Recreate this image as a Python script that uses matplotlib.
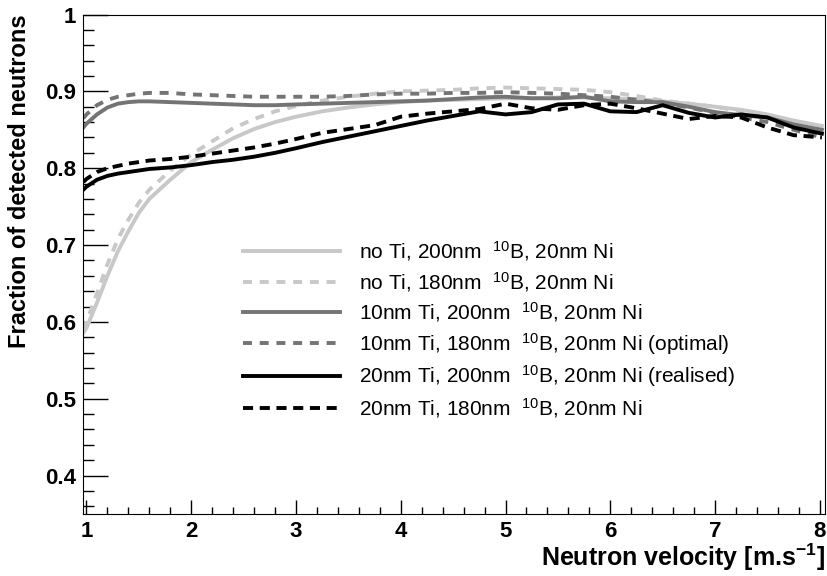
import matplotlib
matplotlib.use('Agg')
import matplotlib.pyplot as plt
from matplotlib.ticker import MultipleLocator

plt.rcParams['font.family'] = ['Liberation Sans', 'DejaVu Sans']
plt.rcParams['mathtext.default'] = 'regular'

# velocities (m/s)
velocity = [0.97, 1.0, 1.1, 1.2, 1.3, 1.4, 1.5, 1.6, 1.8, 2.0, 2.2, 2.4, 2.6, 2.8,
            3.0, 3.25, 3.5, 3.75, 4.0, 4.25, 4.5, 4.75, 5.0, 5.25, 5.5, 5.75,
            6.0, 6.25, 6.5, 6.75, 7.0, 7.25, 7.5, 7.75, 8.02]

# fraction of detected neutrons
noti_200 = [0.586, 0.592, 0.625, 0.660, 0.692, 0.718, 0.742, 0.760, 0.785, 0.808,
            0.824, 0.839, 0.851, 0.860, 0.867, 0.874, 0.879, 0.883, 0.886, 0.888,
            0.889, 0.890, 0.891, 0.891, 0.892, 0.892, 0.891, 0.890, 0.887, 0.884,
            0.880, 0.876, 0.870, 0.862, 0.855]
noti_180 = [0.590, 0.600, 0.637, 0.675, 0.708, 0.733, 0.755, 0.772, 0.797, 0.818,
            0.835, 0.852, 0.864, 0.874, 0.881, 0.888, 0.893, 0.897, 0.900, 0.901,
            0.902, 0.904, 0.905, 0.904, 0.903, 0.902, 0.899, 0.894, 0.888, 0.884,
            0.880, 0.874, 0.866, 0.857, 0.847]
ti10_200 = [0.853, 0.858, 0.870, 0.879, 0.884, 0.886, 0.887, 0.887, 0.886, 0.885,
            0.884, 0.883, 0.882, 0.882, 0.883, 0.884, 0.885, 0.886, 0.887, 0.888,
            0.890, 0.892, 0.893, 0.891, 0.891, 0.893, 0.887, 0.886, 0.886, 0.880,
            0.873, 0.869, 0.866, 0.857, 0.850]
ti10_180 = [0.865, 0.870, 0.882, 0.889, 0.893, 0.895, 0.897, 0.898, 0.898, 0.896,
            0.895, 0.894, 0.893, 0.893, 0.893, 0.893, 0.894, 0.896, 0.897, 0.897,
            0.898, 0.898, 0.899, 0.898, 0.897, 0.895, 0.893, 0.889, 0.885, 0.879,
            0.872, 0.866, 0.860, 0.850, 0.840]
ti20_200 = [0.772, 0.776, 0.785, 0.790, 0.793, 0.795, 0.797, 0.799, 0.801, 0.804,
            0.808, 0.811, 0.815, 0.820, 0.826, 0.834, 0.841, 0.848, 0.855, 0.862,
            0.868, 0.874, 0.870, 0.873, 0.883, 0.884, 0.874, 0.873, 0.882, 0.872,
            0.866, 0.870, 0.866, 0.853, 0.845]
ti20_180 = [0.782, 0.786, 0.795, 0.800, 0.803, 0.806, 0.808, 0.810, 0.812, 0.815,
            0.819, 0.823, 0.827, 0.832, 0.838, 0.846, 0.851, 0.856, 0.867, 0.871,
            0.874, 0.877, 0.884, 0.878, 0.876, 0.882, 0.884, 0.878, 0.871, 0.864,
            0.868, 0.866, 0.853, 0.843, 0.840]

labels = [r'no Ti, 200nm  $^{10}$B, 20nm Ni',
          r'no Ti, 180nm  $^{10}$B, 20nm Ni',
          r'10nm Ti, 200nm  $^{10}$B, 20nm Ni',
          r'10nm Ti, 180nm  $^{10}$B, 20nm Ni (optimal)',
          r'20nm Ti, 200nm  $^{10}$B, 20nm Ni (realised)',
          r'20nm Ti, 180nm  $^{10}$B, 20nm Ni']

fig = plt.figure(figsize=(8.27, 5.76), dpi=100)
ax = fig.add_axes([0.1004, 0.1076, 0.8972, 0.8672])

lw = 2.8
light, mid, dark = '#c8c8c8', '#747474', '#000000'
ax.plot(velocity, noti_200, color=light, lw=lw, label=labels[0])
ax.plot(velocity, noti_180, color=light, lw=lw, dashes=(2.3, 2.0), label=labels[1])
ax.plot(velocity, ti10_200, color=mid, lw=lw, label=labels[2])
ax.plot(velocity, ti10_180, color=mid, lw=lw, dashes=(2.3, 2.0), label=labels[3])
ax.plot(velocity, ti20_200, color=dark, lw=lw, label=labels[4])
ax.plot(velocity, ti20_180, color=dark, lw=lw, dashes=(2.6, 1.7), label=labels[5])

ax.set_xlim(0.967, 8.05)
ax.set_ylim(0.35, 1.0)
ax.xaxis.set_major_locator(MultipleLocator(1))
ax.xaxis.set_minor_locator(MultipleLocator(0.2))
ax.yaxis.set_major_locator(MultipleLocator(0.1))
ax.yaxis.set_minor_locator(MultipleLocator(0.02))
ax.yaxis.set_major_formatter(matplotlib.ticker.FuncFormatter(lambda v, p: '1' if abs(v - 1) < 1e-9 else f'{v:.1f}'))
ax.tick_params(axis='both', which='both', direction='in', width=1, labelsize=16)
ax.tick_params(axis='x', which='major', length=10, pad=5)
ax.tick_params(axis='x', which='minor', length=5)
ax.tick_params(axis='y', which='major', length=18, pad=5)
ax.tick_params(axis='y', which='minor', length=8)
for lab in ax.get_xticklabels() + ax.get_yticklabels():
    lab.set_fontweight('bold')

ax.set_xlabel(r'Neutron velocity [m.s$^{-1}$]', fontsize=18, fontweight='bold',
              loc='right', labelpad=0)
ax.set_ylabel('Fraction of detected neutrons', fontsize=17, fontweight='bold',
              loc='top', labelpad=10)

leg = ax.legend(loc='upper left', bbox_to_anchor=(0.2156, 0.55), frameon=False,
                fontsize=15, handlelength=4.65, handletextpad=0.9, labelspacing=0.32,
                borderpad=0, borderaxespad=0)

plt.savefig('out.png', dpi=100)
plt.close()
